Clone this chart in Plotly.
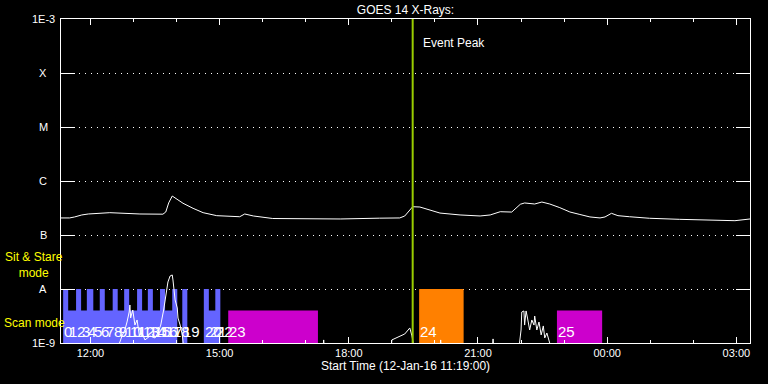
import math
import plotly.graph_objects as go

# ---------------- data ----------------
# GOES 1-8 A flux (upper white curve)
flux_long_t = ["11:19","11:31","11:38","11:48","11:57","12:27","13:09","13:41","13:45","13:49",
               "13:54","13:58","14:09","14:23","14:37","14:56","15:28","15:35","15:47","16:14",
               "17:02","17:48","18:43","19:11","19:18","19:25","19:29","19:39","19:53","20:07",
               "20:35","21:03","21:17","21:31","21:47","21:59","22:05","22:19","22:29","22:40",
               "22:54","23:08","23:22","23:36","23:50","23:57","00:06","00:15","00:31","00:59",
               "01:41","02:09","02:37","02:58","03:19"]
flux_long = [2.07e-7,2.07e-7,2.16e-7,2.35e-7,2.45e-7,2.59e-7,2.45e-7,2.43e-7,2.67e-7,3.92e-7,
             5.27e-7,4.84e-7,3.87e-7,3.12e-7,2.59e-7,2.28e-7,2.18e-7,2.45e-7,2.25e-7,2.02e-7,
             2.02e-7,1.98e-7,2.05e-7,2.07e-7,2.25e-7,2.90e-7,3.34e-7,3.30e-7,2.90e-7,2.55e-7,
             2.35e-7,2.25e-7,2.35e-7,2.70e-7,2.66e-7,3.71e-7,3.92e-7,3.75e-7,4.08e-7,3.75e-7,
             3.21e-7,2.67e-7,2.40e-7,2.16e-7,2.07e-7,2.16e-7,2.52e-7,2.28e-7,2.18e-7,2.04e-7,
             1.95e-7,1.90e-7,1.90e-7,1.84e-7,1.98e-7]

# GOES 0.5-4 A flux (lower white curve, mostly below 1E-9)
flux_short_t = ["11:19","12:38","12:44","12:48","12:51","12:54","12:55","12:56","12:59","13:02",
                "13:05","13:08","13:12","13:16","13:23","13:30","13:34","13:38","13:42","13:45",
                "13:48","13:51","13:54","13:55","13:56","13:58","14:01","14:02","14:05","14:08",
                "14:10","17:24","17:25","17:26","18:59","19:00","19:18","19:22","19:25","19:28",
                "19:31","20:07","20:08","20:09","21:20","21:21","21:22","21:57","22:00","22:01",
                "22:04","22:05","22:07","22:09","22:12","22:15","22:18","22:19","22:22","22:25",
                "22:28","22:31","22:33","22:36","22:39","22:42","00:10","03:19"]
flux_short = [8e-10,8e-10,1.35e-9,1.74e-9,2.45e-9,3.75e-9,5.06e-9,2.90e-9,4.08e-9,2.15e-9,
              2.67e-9,1.41e-9,1.53e-9,1.14e-9,1.35e-9,1.24e-9,1.53e-9,2.15e-9,4.08e-9,7.74e-9,
              1.35e-8,1.74e-8,1.82e-8,1.47e-8,9.58e-9,6.26e-9,4.45e-9,2.90e-9,2.15e-9,1.41e-9,
              8e-10,8e-10,1.14e-9,8e-10,8e-10,1.14e-9,1.47e-9,1.74e-9,1.90e-9,1.35e-9,
              8e-10,8e-10,1.14e-9,8e-10,8e-10,1.19e-9,8e-10,8e-10,1.74e-9,3.75e-9,
              3.92e-9,2.15e-9,3.92e-9,2.90e-9,1.74e-9,2.67e-9,2.15e-9,3.16e-9,1.74e-9,2.45e-9,
              1.41e-9,2.07e-9,1.24e-9,1.53e-9,1.14e-9,8e-10,8e-10,8e-10]

# IRIS observations
obs_label = [str(i) for i in range(26)]
obs_start = ["11:22","11:29","11:40","11:47","11:55","12:04","12:13","12:20","12:31","12:38",
             "12:47","12:54","13:05","13:12","13:20","13:27","13:37","13:44","13:54","14:08",
             "14:38","14:45","14:54","15:12","19:38","22:50"]
obs_end = ["11:29","11:40","11:47","11:55","12:04","12:13","12:20","12:31","12:38","12:47",
           "12:54","13:05","13:12","13:20","13:27","13:37","13:44","13:54","14:01","14:15",
           "14:45","14:54","15:01","17:17","20:40","23:53"]
obs_mode = ["sit","scan","sit","scan","sit","scan","sit","scan","sit","scan",
            "sit","scan","sit","scan","sit","scan","sit","scan","sit","sit",
            "sit","scan","sit","scan","sit","scan"]
obs_color = ["#6464FF"] * 23 + ["#CC00CC", "#FF8000", "#CC00CC"]

mode_top = {"sit": 1e-8, "scan": 4e-9}
bar_base = 1e-9
label_level = 1.6e-9

event_peak = "19:29"

y_tick_vals = [1e-3, 1e-4, 1e-5, 1e-6, 1e-7, 1e-8, 1e-9]
y_tick_text = ["1E-3", "X", "M", "C", "B", "A", "1E-9"]

x_start, x_end = "11:19", "03:19"


def ts(hm):
    h = int(hm.split(":")[0])
    day = 12 if h >= 11 else 13
    return f"2016-01-{day} {hm}"


FONT = "Liberation Sans"
fig = go.Figure()

# bars grouped by colour
for col in ["#6464FF", "#CC00CC", "#FF8000"]:
    xs, ys = [], []
    for s, e, m, c in zip(obs_start, obs_end, obs_mode, obs_color):
        if c != col:
            continue
        top = mode_top[m]
        xs += [ts(s), ts(s), ts(e), ts(e), ts(s), None]
        ys += [bar_base, top, top, bar_base, bar_base, None]
    fig.add_trace(go.Scatter(x=xs, y=ys, mode="lines", fill="toself",
                             fillcolor=col, line=dict(width=0, color=col),
                             hoverinfo="skip"))

fig.add_trace(go.Scatter(x=[ts(t) for t in flux_long_t], y=flux_long, mode="lines",
                         line=dict(color="white", width=1)))
fig.add_trace(go.Scatter(x=[ts(t) for t in flux_short_t], y=flux_short, mode="lines",
                         line=dict(color="white", width=1)))

ann = []
# bar labels
for s, lab in zip(obs_start, obs_label):
    ann.append(dict(x=ts(s), y=math.log10(label_level), xref="x", yref="y", text=lab,
                    showarrow=False, xanchor="left", yanchor="middle", xshift=-1,
                    font=dict(family=FONT, size=15, color="white")))
# y labels
for v, t in zip(y_tick_vals, y_tick_text):
    if t.startswith("1E"):
        ann.append(dict(x=-0.006, y=math.log10(v), xref="paper", yref="y", text=t,
                        showarrow=False, xanchor="right", yanchor="middle",
                        font=dict(family=FONT, size=11, color="white")))
    else:
        ann.append(dict(x=-0.0254, y=math.log10(v), xref="paper", yref="y", text=t,
                        showarrow=False, xanchor="center", yanchor="middle",
                        font=dict(family=FONT, size=11, color="white")))
ann.append(dict(x=-0.0392, y=0.2407, xref="paper", yref="paper", text="Sit & Stare<br>mode",
                showarrow=False, xanchor="center", yanchor="middle", align="center",
                font=dict(family=FONT, size=12, color="#FFFF00")))
ann.append(dict(x=-0.0856, y=0.0617, xref="paper", yref="paper", text="Scan mode",
                showarrow=False, xanchor="left", yanchor="middle",
                font=dict(family=FONT, size=12, color="#FFFF00")))
ann.append(dict(x=ts(event_peak), y=0.926, xref="x", yref="paper", text="Event Peak",
                showarrow=False, xanchor="left", yanchor="middle", xshift=8,
                font=dict(family=FONT, size=12, color="white")))

fig.add_shape(type="line", xref="x", yref="paper", x0=ts(event_peak), x1=ts(event_peak),
              y0=0, y1=1, line=dict(color="#99CC00", width=2))

fig.update_layout(
    width=768, height=384,
    margin=dict(l=61, r=18, t=19, b=41),
    paper_bgcolor="black", plot_bgcolor="black",
    showlegend=False, hovermode=False,
    title=dict(text="GOES 14 X-Rays:", x=0.5, xref="paper", xanchor="center",
               y=1 - 10 / 384, yanchor="middle",
               font=dict(family=FONT, size=12, color="white")),
    annotations=ann,
)
fig.update_xaxes(type="date", range=[ts(x_start), ts(x_end)], dtick=3 * 3600000,
                 tickformat="%H:%M", ticks="inside", ticklen=6, tickcolor="white",
                 minor=dict(dtick=3600000, ticks="inside", ticklen=3, tickcolor="white"),
                 showline=True, linecolor="white", linewidth=1, mirror="ticks",
                 showgrid=False, zeroline=False,
                 tickfont=dict(family=FONT, size=11, color="white"),
                 title=dict(text="Start Time (12-Jan-16 11:19:00)", standoff=2,
                            font=dict(family=FONT, size=12, color="white")))
fig.update_yaxes(type="log", range=[-9, -3], tickvals=y_tick_vals, showticklabels=False,
                 ticks="inside", ticklen=14, tickcolor="white",
                 showline=True, linecolor="white", linewidth=1, mirror="ticks",
                 showgrid=True, gridcolor="white", griddash="1px,5px", gridwidth=1,
                 zeroline=False)

fig.write_html("out.html",
               config={"displayModeBar": False, "staticPlot": True},
               post_script="document.body.style.margin='0';"
                           "document.body.style.background='black';")
